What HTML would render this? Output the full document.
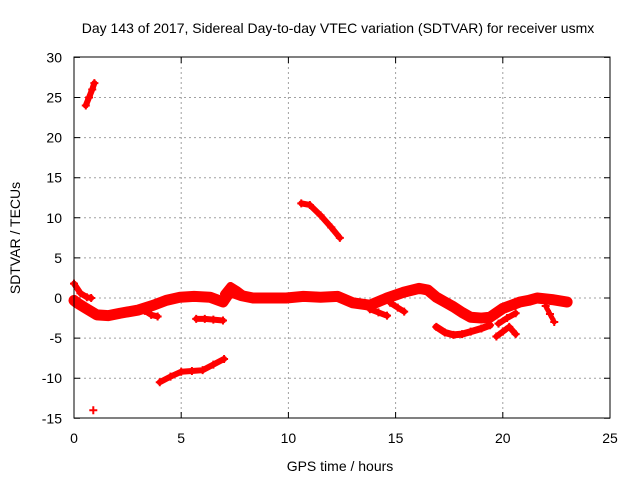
<!DOCTYPE html>
<html><head><meta charset="utf-8"><style>
body{margin:0;background:#fff}
svg{display:block;font-family:"Liberation Sans",sans-serif}
</style></head><body>
<svg id="chart" width="640" height="480" viewBox="0 0 640 480">
<text x="338" y="33" font-size="14" text-anchor="middle">Day 143 of 2017, Sidereal Day-to-day VTEC variation (SDTVAR) for receiver usmx</text>
<text x="340" y="471" font-size="14" text-anchor="middle">GPS time / hours</text>
<text x="20" y="238" font-size="14" text-anchor="middle" transform="rotate(-90 20 238)">SDTVAR / TECUs</text>
<g id="grid"></g><g id="marks"></g>
<rect x="74" y="57" width="536" height="361" fill="none" stroke="#000" stroke-width="1"/>
</svg>
<script>
const xTicks=[0,5,10,15,20,25];
const yTicks=[-15,-10,-5,0,5,10,15,20,25,30];
const mainH=[0,0.14,0.5,1.06,1.6,2.15,3.0,3.7,4.3,4.95,5.6,6.34,6.95,7.28,7.8,8.35,9.1,9.9,10.7,11.5,12.3,13.0,13.8,14.6,15.35,16.1,16.5,16.9,17.3,17.7,18.1,18.5,19.0,19.4,20.0,20.4,20.8,21.2,21.6,22.3,23.0];
const mainV=[-0.3,-0.6,-1.2,-2.1,-2.2,-1.9,-1.5,-0.9,-0.3,0.1,0.2,0.1,-0.5,0.8,0.3,0,0,0,0.2,0.1,0.2,-0.6,-0.9,0,0.7,1.2,1.0,0.1,-0.5,-1.1,-1.8,-2.4,-2.5,-2.4,-1.3,-0.9,-0.5,-0.3,0,-0.2,-0.5];
const lowH=[16.9,17.3,17.7,18.1,18.5,19.0,19.4];
const lowV=[-3.6,-4.3,-4.6,-4.5,-4.2,-3.8,-3.4];
const br1H=[19.7,20.0,20.3,20.6];
const br1V=[-4.8,-4.2,-3.6,-4.5];
const br2H=[19.8,20.2,20.6];
const br2V=[-3.2,-2.5,-1.9];
const br3H=[13.8,14.2,14.6];
const br3V=[-1.4,-1.8,-2.2];
const br4H=[14.75,15.1,15.4];
const br4V=[-0.6,-1.2,-1.7];
const br5H=[3.3,3.6,3.9];
const br5V=[-1.6,-2.1,-2.3];
const br6H=[22.0,22.2,22.4];
const br6V=[-1.0,-2.0,-3.0];
const bumpH=[7.0,7.3,7.6,7.9];
const bumpV=[0.5,1.5,1.0,0.4];
const startH=[0,0.3,0.6,0.8];
const startV=[1.8,0.6,0.1,0];
const midH=[5.7,6.1,6.5,6.95];
const midV=[-2.6,-2.6,-2.7,-2.8];
const negH=[4.0,4.5,5.0,5.5,6.0,6.5,7.0];
const negV=[-10.5,-9.8,-9.2,-9.1,-9.0,-8.3,-7.6];
const highH=[10.6,11.0,11.5,12.0,12.4];
const highV=[11.8,11.6,10.3,8.8,7.5];
const topH=[0.55,0.7,0.85,0.95];
const topV=[24.0,25.0,26.0,26.8];
const loneH=[0.9];
const loneV=[-14];
const X=h=>74+h*21.44, Y=v=>298-v*8.02;
const ns="http://www.w3.org/2000/svg";
const grid=document.getElementById('grid'), marks=document.getElementById('marks'), svg=document.getElementById('chart');
xTicks.forEach(t=>{
  const x=X(t);
  if(t>0&&t<25){const l=document.createElementNS(ns,'line');
  
  
  l.setAttribute('x1',x);l.setAttribute('x2',x);l.setAttribute('y1',57);l.setAttribute('y2',418);
  l.setAttribute('stroke','#a0a0a0');l.setAttribute('stroke-dasharray','2,3');grid.appendChild(l);}
  const tk=document.createElementNS(ns,'path');
  
  
  tk.setAttribute('d',`M${x} 418v-6M${x} 57v6`);tk.setAttribute('stroke','#000');grid.appendChild(tk);
  const tx=document.createElementNS(ns,'text');
  
  
  tx.setAttribute('x',x);tx.setAttribute('y',443);tx.setAttribute('font-size','14');tx.setAttribute('text-anchor','middle');
  tx.textContent=t;svg.appendChild(tx);
});
yTicks.forEach(t=>{
  const y=Y(t);
  if(t>-15&&t<30){const l=document.createElementNS(ns,'line');
  
  
  l.setAttribute('x1',74);l.setAttribute('x2',610);l.setAttribute('y1',y);l.setAttribute('y2',y);
  l.setAttribute('stroke','#a0a0a0');l.setAttribute('stroke-dasharray','2,3');grid.appendChild(l);}
  const tk=document.createElementNS(ns,'path');
  
  
  tk.setAttribute('d',`M74 ${y}h6M610 ${y}h-6`);tk.setAttribute('stroke','#000');grid.appendChild(tk);
  const tx=document.createElementNS(ns,'text');
  
  
  tx.setAttribute('x',62);tx.setAttribute('y',y+5);tx.setAttribute('font-size','14');tx.setAttribute('text-anchor','end');
  tx.textContent=t;svg.appendChild(tx);
});
function track(hs,vs,name,w){
  if(hs.length>1){
    const p=document.createElementNS(ns,'polyline');
    
    
    p.setAttribute('points',hs.map((h,i)=>X(h)+','+Y(vs[i])).join(' '));
    p.setAttribute('fill','none');p.setAttribute('stroke','#ff0000');p.setAttribute('stroke-width',w);
    p.setAttribute('stroke-linejoin','round');p.setAttribute('stroke-linecap','round');
    marks.appendChild(p);
  }
  hs.forEach((h,i)=>{
    const x=X(h),y=Y(vs[i]);
    const m=document.createElementNS(ns,'path');
    
    
    m.setAttribute('d',`M${x-4} ${y}h8M${x} ${y-4}v8`);
    m.setAttribute('stroke','#ff0000');m.setAttribute('stroke-width','2');
    marks.appendChild(m);
  });
}
track(mainH,mainV,'main-track',11);
track(lowH,lowV,'low-branch',7);
track(br1H,br1V,'branch-a',6);
track(br2H,br2V,'branch-b',6);
track(br3H,br3V,'branch-c',6);
track(br4H,br4V,'branch-d',6);
track(br5H,br5V,'branch-e',6);
track(br6H,br6V,'branch-f',5);
track(bumpH,bumpV,'bump',8);
track(startH,startV,'start',6);
track(midH,midV,'mid-segment',6);
track(negH,negV,'negative-track',6);
track(highH,highV,'high-track',6);
track(topH,topV,'top-track',6);
track(loneH,loneV,'lone-point',0);
</script>
</body></html>
